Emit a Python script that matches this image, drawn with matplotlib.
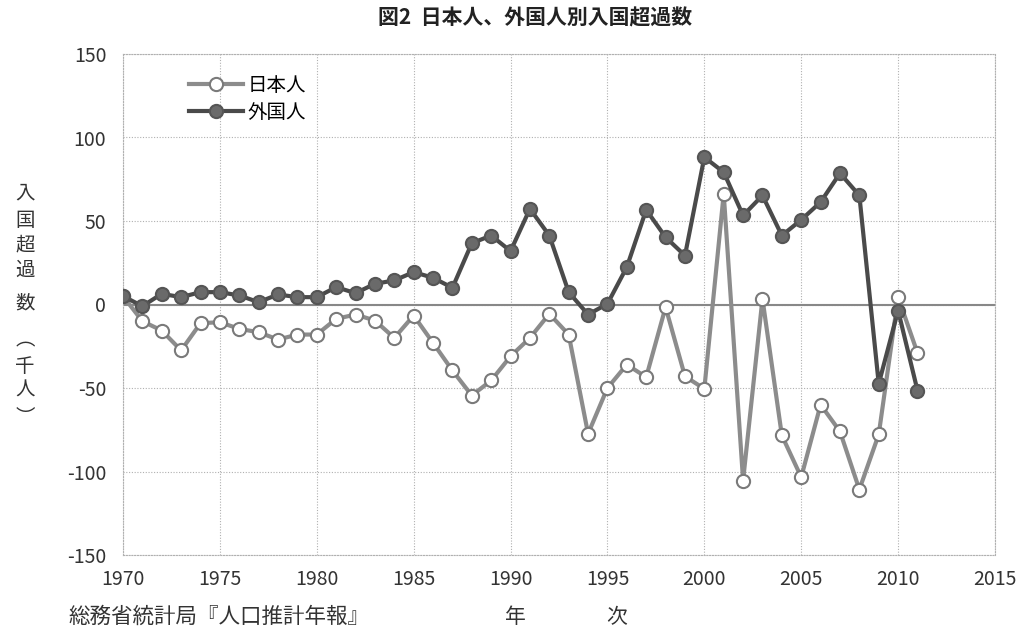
import numpy as np
import matplotlib
matplotlib.use('Agg')
import matplotlib.pyplot as plt

plt.rcParams['font.family'] = ['Noto Sans CJK JP', 'DejaVu Sans']
plt.rcParams['axes.unicode_minus'] = False

# データ(千人)
years = list(range(1970, 2012))
japanese = [5, -10, -15.6, -27.5, -11.2, -10.6, -14.6, -16.6, -21, -18,
            -18, -8.6, -6, -9.6, -20, -6.6, -23, -39.5, -54.5, -45.5,
            -31, -20, -5.6, -18, -77.4, -50, -36, -43.5, -1.6, -43,
            -50.5, 66.3, -105.4, 3.4, -78.4, -103.4, -60, -76, -110.8, -77.8,
            4.4, -29]
foreign = [5, -1, 6.4, 4.4, 7.4, 7.4, 5.4, 1.4, 6, 4.4,
           4.4, 10.4, 6.8, 12.4, 14.4, 19.4, 16, 10, 36.7, 41.3,
           32, 57.3, 41.3, 7.4, -6, 0.4, 22.4, 56.7, 40.3, 29.3,
           88.2, 79.2, 53.3, 65.3, 41.3, 50.7, 61.3, 78.6, 65.3, -47.5,
           -3.6, -51.5]
xticks = list(range(1970, 2016, 5))
yticks = list(range(-150, 151, 50))

fig = plt.figure(figsize=(10.34, 6.32), dpi=100)
ax = fig.add_axes([123/1034, 1 - 555/632, (995-123)/1034, (555-54)/632])

ax.plot(years, japanese, color='#8c8c8c', lw=3, marker='o', ms=9.5,
        mfc='white', mec='#7a7a7a', mew=1.5, label='日本人', zorder=3)
ax.plot(years, foreign, color='#4a4a4a', lw=3, marker='o', ms=9.5,
        mfc='#6a6a6a', mec='#555555', mew=1.5, label='外国人', zorder=4)

ax.axhline(0, color='#888888', lw=1.5, zorder=2)
ax.set_xlim(1970, 2015)
ax.set_ylim(-150, 150)
ax.set_xticks(xticks)
ax.set_yticks(yticks)
ax.grid(True, color='#b0b0b0', ls=(0, (1, 1.5)), lw=0.8)
for s in ax.spines.values():
    s.set_color('#b0b0b0')
    s.set_linestyle((0, (1, 1.5)))
ax.tick_params(length=0, labelsize=14, colors='#333333')
ax.tick_params(axis='x', pad=10)
ax.tick_params(axis='y', pad=12)

ax.legend(loc='upper left', bbox_to_anchor=(0.06, 0.985), frameon=False,
          fontsize=14, handlelength=2.8, handletextpad=0.2, labelspacing=0.3,
          borderpad=0.2)

fig.text(535/1034, 1 - 18/632, '図2  日本人、外国人別入国超過数', ha='center', va='center',
         fontsize=15, fontweight='bold', color='#222222')

ychars = ['入', '国', '超', '過', '数', '︵', '千', '人', '︶']
ypos = [193, 220, 245, 270, 303, 340, 366, 390, 418]
for c, yp in zip(ychars, ypos):
    fig.text(25/1034, 1 - yp/632, c, ha='center', va='center', fontsize=14, color='#333333')

fig.text(68/1034, 1 - 617/632, '総務省統計局『人口推計年報』', ha='left', va='center',
         fontsize=15.5, color='#333333')
fig.text(515/1034, 1 - 617/632, '年', ha='center', va='center', fontsize=15, color='#333333')
fig.text(617/1034, 1 - 617/632, '次', ha='center', va='center', fontsize=15, color='#333333')

fig.savefig('out.png', dpi=100)
